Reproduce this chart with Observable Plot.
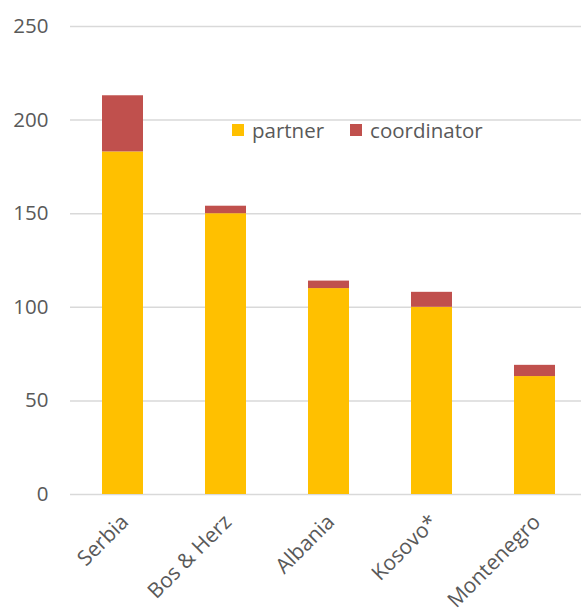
<!DOCTYPE html>
<html>
<head>
<meta charset="utf-8">
<script src="https://cdn.jsdelivr.net/npm/d3@7"></script>
<script src="https://cdn.jsdelivr.net/npm/@observablehq/plot@0.6"></script>
<style>
  html, body { margin: 0; padding: 0; background: #fff; }
  #wrap { position: relative; width: 581px; height: 608px; overflow: hidden; font-family: "Open Sans", sans-serif; }
  #legend { position: absolute; left: 232px; top: 116px; display: flex; align-items: center; font-size: 20.5px; color: #595959; }
  #legend .sw { display: inline-block; width: 12px; height: 12px; margin-right: 8px; }
  #legend .item { display: flex; align-items: center; margin-right: 26px; }
</style>
</head>
<body>
<div id="wrap"></div>
<script>
const countries = ["Serbia", "Bos & Herz", "Albania", "Kosovo*", "Montenegro"];
const partner = [183, 150, 110, 100, 63];
const coordinator = [30, 4, 4, 8, 6];
const seriesNames = ["partner", "coordinator"];
const seriesColors = ["#FFC000", "#C0504D"];
const yTicks = [0, 50, 100, 150, 200, 250];

const rows = [];
countries.forEach((c, i) => {
  rows.push({country: c, series: "partner", value: partner[i]});
  rows.push({country: c, series: "coordinator", value: coordinator[i]});
});

const chart = Plot.plot({
  width: 581,
  height: 608,
  marginTop: 26,
  marginBottom: 114,
  marginLeft: 70,
  marginRight: 0,
  style: {fontFamily: "'Open Sans', sans-serif", fontSize: "20.5px", color: "#595959", background: "#fff"},
  x: {domain: countries, range: [71, 586], paddingInner: 0.6, paddingOuter: 0.3, label: null},
  y: {domain: [0, 250], ticks: yTicks, label: null},
  color: {domain: seriesNames, range: seriesColors},
  marks: [
    Plot.gridY(yTicks, {stroke: "#d9d9d9", strokeOpacity: 1, strokeWidth: 1.5}),
    Plot.axisY(yTicks, {tickSize: 0, tickPadding: 22, fill: "#595959", fontSize: 20.5}),
    Plot.axisX({tickSize: 0, tickPadding: 24, tickRotate: -45, dx: 2, fill: "#595959", fontSize: 21}),
    Plot.barY(rows, {x: "country", y: "value", fill: "series", order: seriesNames})
  ]
});

const wrap = document.getElementById("wrap");
wrap.appendChild(chart);
const legend = document.createElement("div");
legend.id = "legend";
seriesNames.forEach((s, i) => {
  const it = document.createElement("div");
  it.className = "item";
  const sw = document.createElement("span");
  sw.className = "sw";
  sw.style.background = seriesColors[i];
  it.appendChild(sw);
  it.appendChild(document.createTextNode(s));
  legend.appendChild(it);
});
wrap.appendChild(legend);
</script>
</body>
</html>
